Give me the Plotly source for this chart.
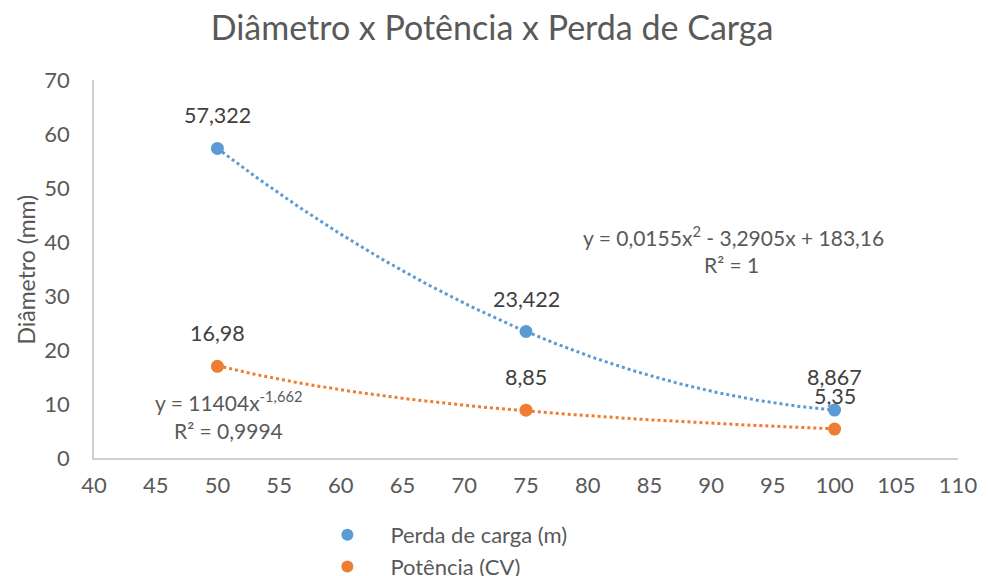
import numpy as np
import plotly.graph_objects as go

vazao = [50, 75, 100]
perda_carga = [57.322, 23.422, 8.867]
potencia = [16.98, 8.85, 5.35]

x_ticks = list(range(40, 111, 5))
y_ticks = list(range(0, 71, 10))

blue = "#5B9BD5"
orange = "#ED7D31"
grey = "#595959"
dark = "#404040"
font_family = "Lato, Carlito, Calibri, sans-serif"

# the page body has an 8px margin, so the figure is drawn 8px in from the top-left
OFF = 8
W, H = 989 - OFF, 576 - OFF
L, R, T, B = 93.5 - OFF, 989 - 958, 80 - OFF, 576 - 458
PW, PH = W - L - R, H - T - B


def fmt(v):
    return str(v).replace(".", ",")


def px(x):
    return (x - OFF - L) / PW


def py(y):
    return (H - B - (y - OFF)) / PH


# trend lines computed from the data
xs = np.linspace(min(vazao), max(vazao), 200)
poly = np.polyfit(vazao, perda_carga, 2)
y_poly = np.polyval(poly, xs)
b, ln_a = np.polyfit(np.log(vazao), np.log(potencia), 1)
y_pow = np.exp(ln_a) * xs ** b

fig = go.Figure()
fig.add_trace(go.Scatter(x=xs, y=y_poly, mode="lines", showlegend=False,
                         line=dict(color=blue, width=3, dash="dot"), hoverinfo="skip"))
fig.add_trace(go.Scatter(x=xs, y=y_pow, mode="lines", showlegend=False,
                         line=dict(color=orange, width=3, dash="dot"), hoverinfo="skip"))
fig.add_trace(go.Scatter(x=vazao, y=perda_carga, mode="markers", name="Perda de carga (m)",
                         marker=dict(color=blue, size=13)))
fig.add_trace(go.Scatter(x=vazao, y=potencia, mode="markers", name="Potência (CV)",
                         marker=dict(color=orange, size=13)))

lab_font = dict(size=21.5, color=dark, family=font_family)
eq_font = dict(size=21, color=grey, family=font_family)

annotations = []
for xv, yv in zip(vazao, perda_carga):
    annotations.append(dict(x=xv, y=yv, text=fmt(yv), showarrow=False, yshift=33,
                            xanchor="center", yanchor="middle", font=lab_font))
for xv, yv in zip(vazao, potencia):
    annotations.append(dict(x=xv, y=yv, text=fmt(yv), showarrow=False, yshift=33,
                            xanchor="center", yanchor="middle", font=lab_font))

annotations += [
    dict(xref="paper", yref="paper", x=px(733), y=py(236), xanchor="center", yanchor="middle",
         text="y = 0,0155x<sup>2</sup> - 3,2905x + 183,16", showarrow=False, font=eq_font),
    dict(xref="paper", yref="paper", x=px(731), y=py(264), xanchor="center", yanchor="middle",
         text="R² = 1", showarrow=False, font=eq_font),
    dict(xref="paper", yref="paper", x=px(228), y=py(401), xanchor="center", yanchor="middle",
         text="y = 11404x<sup>-1,662</sup>", showarrow=False, font=eq_font),
    dict(xref="paper", yref="paper", x=px(228), y=py(430), xanchor="center", yanchor="middle",
         text="R² = 0,9994", showarrow=False, font=eq_font),
    dict(xref="paper", yref="paper", x=px(25), y=py(270), xanchor="center", yanchor="middle",
         text="Diâmetro (mm)", textangle=-90, showarrow=False,
         font=dict(size=23, color=grey, family=font_family)),
]

fig.update_layout(
    width=W, height=H,
    paper_bgcolor="white", plot_bgcolor="white",
    margin=dict(l=L, r=R, t=T, b=B, autoexpand=False),
    separators=",.",
    title=dict(text="Diâmetro x Potência x Perda de Carga", x=(492 - OFF) / W, xref="container",
               xanchor="center", y=1 - (28 - OFF) / H, yanchor="middle",
               font=dict(size=34, color=grey, family=font_family)),
    font=dict(family=font_family, color=grey),
    xaxis=dict(range=[40, 110], tickvals=x_ticks, showgrid=False, zeroline=False,
               showline=True, linecolor="#D0D0D0", linewidth=1.5, ticks="",
               automargin=False, ticklabelstandoff=7,
               tickfont=dict(size=22, color=grey, family=font_family)),
    yaxis=dict(range=[0, 70], tickvals=y_ticks, showgrid=False, zeroline=False,
               showline=True, linecolor="#D0D0D0", linewidth=1.5, ticks="",
               automargin=False, ticklabelstandoff=18,
               tickfont=dict(size=22, color=grey, family=font_family)),
    legend=dict(x=px(304), y=py(514), xanchor="left", yanchor="top",
                orientation="v", font=dict(size=22, color=grey, family=font_family),
                tracegroupgap=0, itemsizing="constant", itemwidth=76,
                bgcolor="rgba(0,0,0,0)"),
    annotations=annotations,
)

fig.write_html("out.html")
